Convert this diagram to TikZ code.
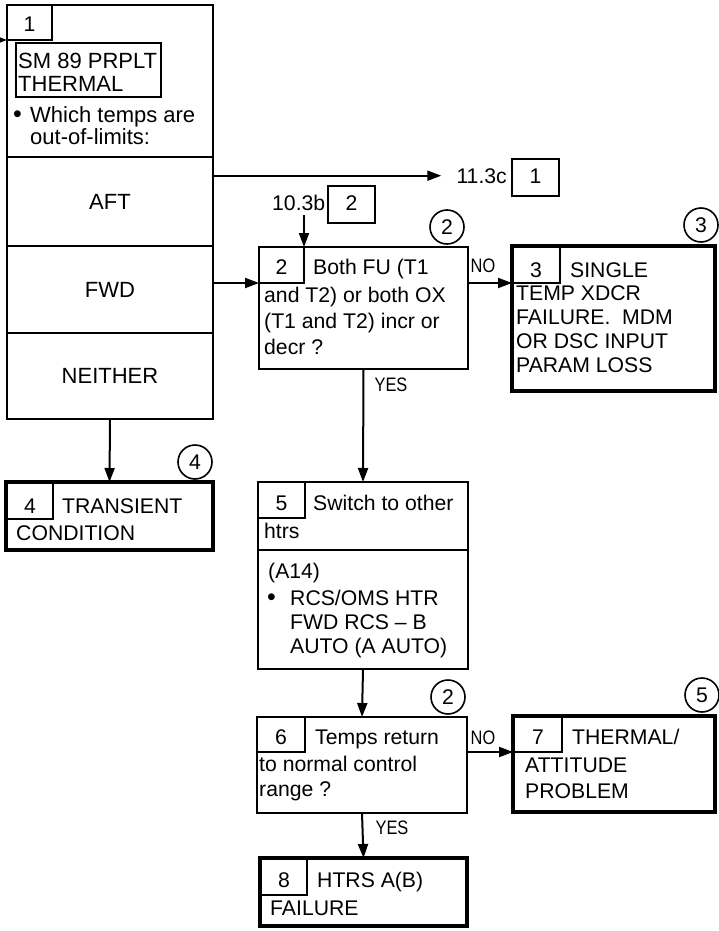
\documentclass[tikz,border=0pt]{standalone}
\usepackage{fontspec}
\setmainfont{Liberation Sans}
\newfontfamily\narrowfont[FakeStretch=0.84]{Liberation Sans}
\usetikzlibrary{arrows.meta}
\newcommand\mainfs{\fontsize{21.2}{25}\selectfont}
\newcommand\onefs{\fontsize{22}{25}\selectfont}
\newcommand\lblfs{\narrowfont\fontsize{19.5}{21}\selectfont}
\begin{document}
\begin{tikzpicture}[x=1pt,y=-1pt,
 box/.style={draw, line width=2pt, anchor=north west, inner sep=0, outer sep=0, font=\mainfs},
 endbox/.style={draw, line width=4.5pt, anchor=north west, inner sep=0, outer sep=0},
 cell/.style={draw, line width=1.6pt, anchor=north west, inner sep=0, outer sep=0},
 txt/.style={anchor=base west, inner sep=0, font=\mainfs},
 onetxt/.style={anchor=base west, inner sep=0, font=\onefs},
 num/.style={anchor=base, inner sep=0, font=\mainfs},
 circ/.style={draw, circle, line width=1.6pt, minimum size=34pt, inner sep=0, font=\mainfs},
 lbl/.style={inner sep=0, font=\lblfs},
 arr/.style={line width=2pt, -{Triangle[length=14pt,width=10pt]}}]
\useasboundingbox (0,0) rectangle (718,931);

% ---- Box 1
\node[box, minimum width=206pt, minimum height=152pt] (h1) at (7,5) {};
\node[box, font=\onefs, minimum width=206pt, minimum height=89pt] (aft) at (7,157) {AFT};
\node[box, font=\onefs, minimum width=206pt, minimum height=87pt] (fwd) at (7,246) {FWD};
\node[box, font=\onefs, minimum width=206pt, minimum height=86pt] (nei) at (7,333) {NEITHER};
\node[cell, minimum width=45pt, minimum height=35pt] (c1) at (7,5) {};
\node[num] (n1) at (29.5,32) {1};
\node[cell, minimum width=145pt, minimum height=54pt] (sm) at (16,43) {};
\node[onetxt] (sm1) at (18,69) {SM 89 PRPLT};
\node[onetxt] (sm2) at (18,92) {THERMAL};
\node[txt, font=\fontsize{25}{25}\selectfont] (bul1) at (13,122) {•};
\node[onetxt] (q1a) at (30,122) {Which temps are};
\node[onetxt] (q1b) at (30,144) {out-of-limits:};
\coordinate (in1) at (0,40);
\draw[arr] (in1) -- (in1 -| h1.west);

% ---- AFT exit
\node[txt, anchor=base east] (t113) at (507,183) {11.3c};
\node[cell, minimum width=47pt, minimum height=37pt] (r1) at (512,159) {};
\node[num] (nr1) at (535.5,183) {1};
\draw[arr, shorten >=15pt] (aft.east |- t113.west) -- (t113.west);

% ---- Box 2
\node[box, minimum width=209pt, minimum height=122pt] (b2) at (259,247) {};
\node[cell, minimum width=45pt, minimum height=36pt] (c2) at (259,247) {};
\node[num] (n2) at (281.5,274) {2};
\node[txt] (t2a) at (313,274) {Both FU (T1};
\node[txt] (t2b) at (264,302) {and T2) or both OX};
\node[txt] (t2c) at (264,328) {(T1 and T2) incr or};
\node[txt] (t2d) at (264,354) {decr ?};
\node[circ] (k2) at (447,227) {2};
\node[txt] (t103) at (272,210) {10.3b};
\node[cell, minimum width=47pt, minimum height=37pt] (r2) at (328,186) {};
\node[num] (nr2) at (351.5,210) {2};
\draw[arr] ([yshift=-5pt]c2.north east |- t103.south) -- (c2.north east);
\draw[arr] (fwd.east |- c2.south west) -- (c2.south west);

% ---- Box 3
\node[endbox, minimum width=203pt, minimum height=145pt] (b3) at (512,246) {};
\node[cell, minimum width=48pt, minimum height=37pt] (c3) at (512,246) {};
\node[num] (n3) at (536,277) {3};
\node[txt] (t3a) at (570,277) {SINGLE};
\node[txt] (t3b) at (516,300) {TEMP XDCR};
\node[txt] (t3c) at (516,324) {FAILURE.\ \ MDM};
\node[txt] (t3d) at (516,348) {OR DSC INPUT};
\node[txt] (t3e) at (516,372) {PARAM LOSS};
\node[circ] (k3) at (701,225) {3};
\draw[arr] (b2.east |- c3.south west) -- (c3.south west);
\node[lbl] (no1) at (483,266) {NO};

% ---- Box 4
\node[endbox, minimum width=207pt, minimum height=68pt] (b4) at (6,482) {};
\node[cell, minimum width=47pt, minimum height=37pt] (c4) at (6,482) {};
\node[num] (n4) at (30,513) {4};
\node[txt] (t4a) at (62,513) {TRANSIENT};
\node[txt] (t4b) at (16,540) {CONDITION};
\node[circ] (k4) at (195,462) {4};
\draw[arr] (nei.south) -- (b4.north);

% ---- Box 5
\node[box, minimum width=210pt, minimum height=68pt] (b5) at (258,482) {};
\node[box, minimum width=210pt, minimum height=119pt] (b5b) at (258,550) {};
\node[cell, minimum width=47pt, minimum height=36pt] (c5) at (258,482) {};
\node[num] (n5) at (281.5,510) {5};
\node[txt] (t5a) at (313,510) {Switch to other};
\node[txt] (t5b) at (264,538) {htrs};
\node[txt] (t5c) at (268,578) {(A14)};
\node[txt, font=\fontsize{25}{25}\selectfont] (bul5) at (267,605) {•};
\node[txt] (t5d) at (290,605) {RCS/OMS HTR};
\node[txt] (t5e) at (290,629) {FWD RCS – B};
\node[txt] (t5f) at (290,653) {AUTO (A AUTO)};
\draw[arr] (b2.south) -- (b5.north);
\node[lbl] (yes1) at (391,385) {YES};

% ---- Box 6
\node[box, minimum width=210pt, minimum height=96pt] (b6) at (257,717) {};
\node[cell, minimum width=48pt, minimum height=35pt] (c6) at (257,717) {};
\node[num] (n6) at (281,744) {6};
\node[txt] (t6a) at (315,744) {Temps return};
\node[txt] (t6b) at (259,771) {to normal control};
\node[txt] (t6c) at (259,796) {range ?};
\node[circ] (k6) at (448,697) {2};
\draw[arr] (b5b.south) -- (b6.north);

% ---- Box 7
\node[endbox, minimum width=202pt, minimum height=96pt] (b7) at (513,716) {};
\node[cell, minimum width=49pt, minimum height=36pt] (c7) at (513,716) {};
\node[num] (n7) at (538,744) {7};
\node[txt] (t7a) at (572,744) {THERMAL/};
\node[txt] (t7b) at (525,772) {ATTITUDE};
\node[txt] (t7c) at (525,798) {PROBLEM};
\node[circ] (k7) at (702,695) {5};
\draw[arr] (b6.east |- c7.south west) -- (c7.south west);
\node[lbl] (no2) at (483,738) {NO};

% ---- Box 8
\node[endbox, minimum width=207pt, minimum height=68pt] (b8) at (260,858) {};
\node[cell, minimum width=47pt, minimum height=37pt] (c8) at (260,858) {};
\node[num] (n8) at (284,887) {8};
\node[txt] (t8a) at (317,887) {HTRS A(B)};
\node[txt] (t8b) at (270,915) {FAILURE};
\draw[arr] (b6.south) -- (b8.north);
\node[lbl] (yes2) at (392,828) {YES};
\end{tikzpicture}
\end{document}
